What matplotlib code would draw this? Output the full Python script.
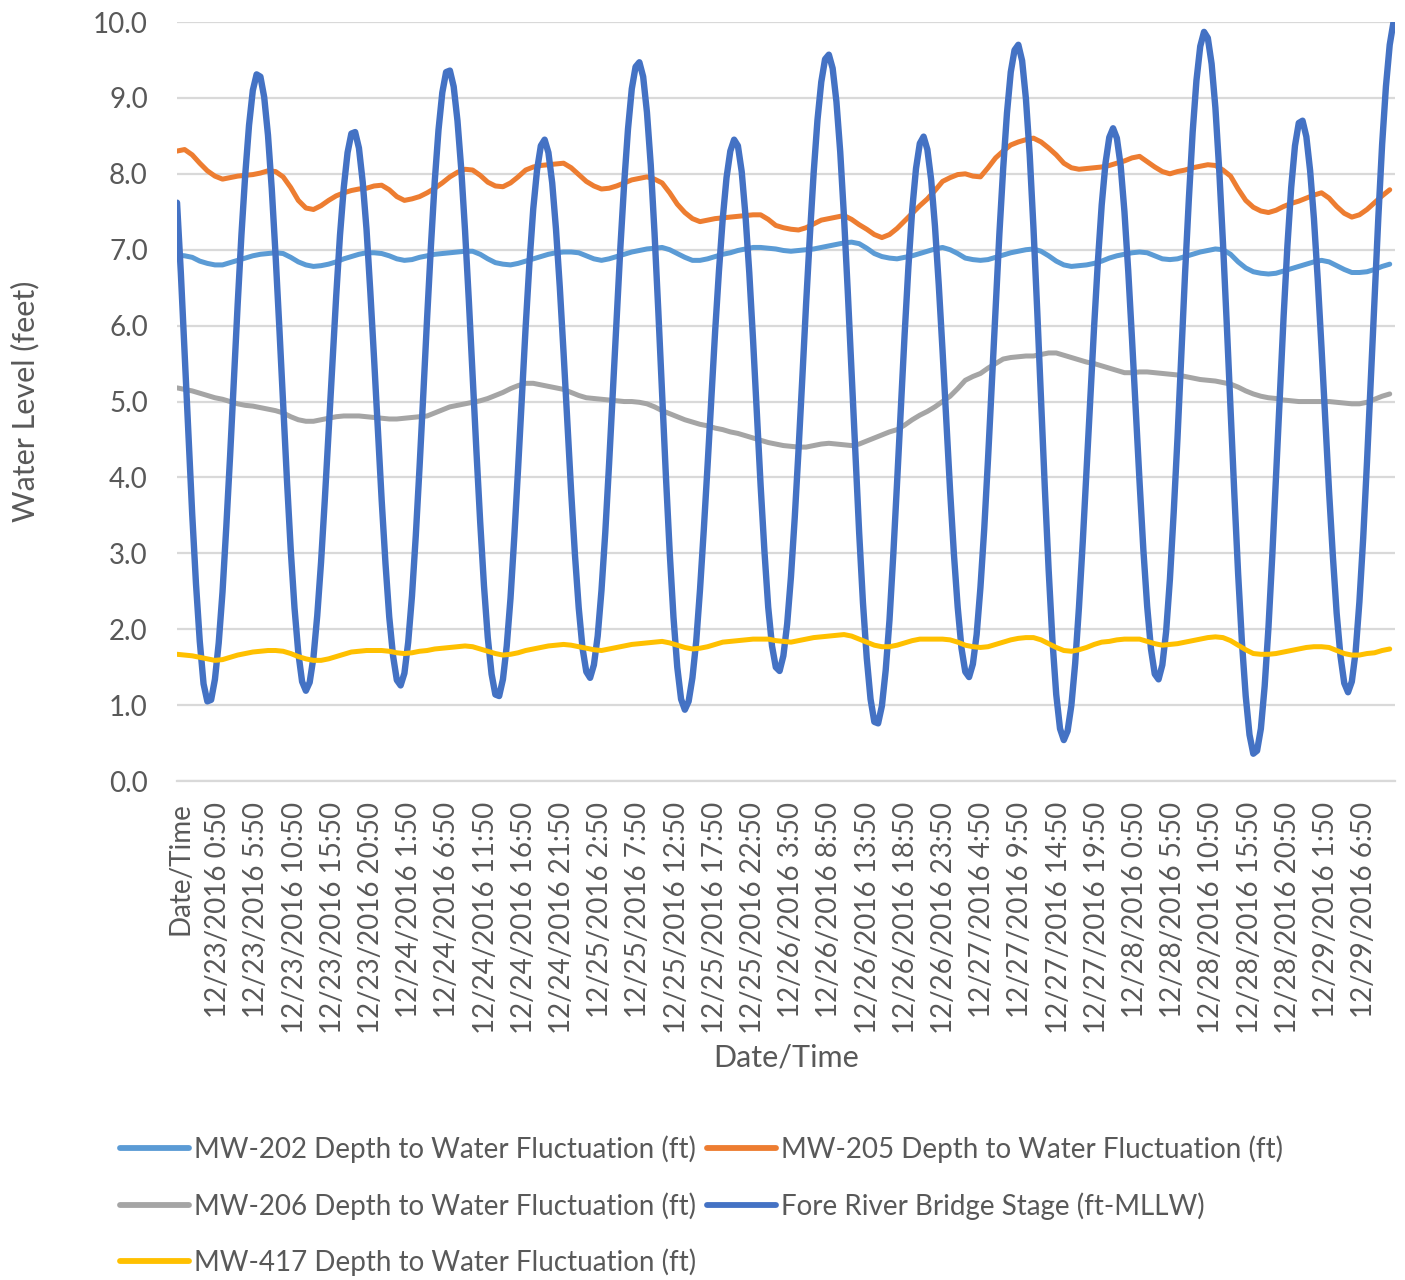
import numpy as np
import matplotlib
matplotlib.use("Agg")
import matplotlib.pyplot as plt

plt.rcParams['font.family'] = ['Lato', 'DejaVu Sans']

# Tick labels along the category axis (one label every 5 hours)
tick_labels = [
    "Date/Time",
    "12/23/2016 0:50", "12/23/2016 5:50", "12/23/2016 10:50", "12/23/2016 15:50", "12/23/2016 20:50",
    "12/24/2016 1:50", "12/24/2016 6:50", "12/24/2016 11:50", "12/24/2016 16:50", "12/24/2016 21:50",
    "12/25/2016 2:50", "12/25/2016 7:50", "12/25/2016 12:50", "12/25/2016 17:50", "12/25/2016 22:50",
    "12/26/2016 3:50", "12/26/2016 8:50", "12/26/2016 13:50", "12/26/2016 18:50", "12/26/2016 23:50",
    "12/27/2016 4:50", "12/27/2016 9:50", "12/27/2016 14:50", "12/27/2016 19:50",
    "12/28/2016 0:50", "12/28/2016 5:50", "12/28/2016 10:50", "12/28/2016 15:50", "12/28/2016 20:50",
    "12/29/2016 1:50", "12/29/2016 6:50",
]

# Monitoring wells, hourly readings (ft)
mw202 = [
    6.93, 6.92, 6.90, 6.85, 6.82, 6.80, 6.80, 6.83, 6.86, 6.89, 6.92, 6.94, 6.95, 6.96, 6.95, 6.90,
    6.84, 6.80, 6.78, 6.79, 6.81, 6.84, 6.88, 6.91, 6.94, 6.96, 6.96, 6.95, 6.92, 6.88, 6.86, 6.87,
    6.90, 6.92, 6.94, 6.95, 6.96, 6.97, 6.98, 6.98, 6.94, 6.88, 6.83, 6.81, 6.80, 6.82, 6.85, 6.88,
    6.91, 6.94, 6.96, 6.97, 6.97, 6.96, 6.92, 6.88, 6.86, 6.88, 6.91, 6.94, 6.97, 6.99, 7.01, 7.02,
    7.03, 7.00, 6.95, 6.90, 6.86, 6.86, 6.88, 6.91, 6.94, 6.96, 6.99, 7.01, 7.03, 7.03, 7.02, 7.01,
    6.99, 6.98, 6.99, 7.00, 7.01, 7.03, 7.05, 7.07, 7.09, 7.10, 7.08, 7.02, 6.95, 6.91, 6.89, 6.88,
    6.90, 6.92, 6.95, 6.98, 7.01, 7.03, 7.00, 6.95, 6.89, 6.87, 6.86, 6.87, 6.90, 6.93, 6.96, 6.98,
    7.00, 7.01, 6.98, 6.92, 6.85, 6.80, 6.78, 6.79, 6.80, 6.82, 6.85, 6.89, 6.92, 6.94, 6.96, 6.97,
    6.96, 6.92, 6.88, 6.87, 6.88, 6.91, 6.94, 6.97, 6.99, 7.01, 7.00, 6.94, 6.84, 6.76, 6.71, 6.69,
    6.68, 6.69, 6.72, 6.75, 6.78, 6.81, 6.84, 6.86, 6.84, 6.79, 6.74, 6.70, 6.70, 6.71, 6.74, 6.78,
    6.81,
]

mw205 = [
    8.30, 8.32, 8.25, 8.14, 8.04, 7.97, 7.93, 7.95, 7.97, 7.98, 7.99, 8.01, 8.04, 8.03, 7.96, 7.82,
    7.65, 7.55, 7.53, 7.58, 7.65, 7.71, 7.75, 7.78, 7.80, 7.81, 7.84, 7.85, 7.79, 7.70, 7.65, 7.67,
    7.70, 7.75, 7.81, 7.88, 7.96, 8.02, 8.06, 8.05, 7.98, 7.89, 7.84, 7.83, 7.88, 7.96, 8.05, 8.09,
    8.11, 8.12, 8.13, 8.14, 8.08, 7.99, 7.90, 7.84, 7.80, 7.81, 7.84, 7.88, 7.92, 7.94, 7.96, 7.93,
    7.88, 7.75, 7.60, 7.49, 7.41, 7.37, 7.39, 7.41, 7.42, 7.43, 7.44, 7.45, 7.46, 7.46, 7.40, 7.32,
    7.29, 7.27, 7.26, 7.29, 7.34, 7.39, 7.41, 7.43, 7.45, 7.40, 7.33, 7.27, 7.20, 7.16, 7.20, 7.28,
    7.38, 7.48, 7.58, 7.67, 7.78, 7.90, 7.95, 7.99, 8.00, 7.97, 7.96, 8.08, 8.21, 8.30, 8.38, 8.42,
    8.45, 8.47, 8.42, 8.34, 8.25, 8.14, 8.08, 8.06, 8.07, 8.08, 8.09, 8.11, 8.14, 8.17, 8.21, 8.23,
    8.16, 8.09, 8.03, 8.00, 8.03, 8.05, 8.08, 8.10, 8.12, 8.11, 8.05, 7.97, 7.80, 7.65, 7.56, 7.51,
    7.49, 7.52, 7.57, 7.61, 7.64, 7.68, 7.72, 7.75, 7.68, 7.57, 7.48, 7.43, 7.46, 7.53, 7.62, 7.71,
    7.79,
]

mw206 = [
    5.18, 5.16, 5.14, 5.11, 5.08, 5.05, 5.03, 5.00, 4.97, 4.95, 4.94, 4.92, 4.90, 4.88, 4.85, 4.80,
    4.76, 4.74, 4.74, 4.76, 4.78, 4.80, 4.81, 4.81, 4.81, 4.80, 4.79, 4.78, 4.77, 4.77, 4.78, 4.79,
    4.80, 4.81, 4.85, 4.89, 4.93, 4.95, 4.97, 4.99, 5.01, 5.04, 5.08, 5.12, 5.17, 5.21, 5.24, 5.24,
    5.22, 5.20, 5.18, 5.16, 5.12, 5.08, 5.05, 5.04, 5.03, 5.02, 5.01, 5.00, 5.00, 4.99, 4.97, 4.93,
    4.88, 4.84, 4.80, 4.76, 4.73, 4.70, 4.68, 4.65, 4.63, 4.60, 4.58, 4.55, 4.52, 4.49, 4.46, 4.44,
    4.42, 4.41, 4.40, 4.40, 4.42, 4.44, 4.45, 4.44, 4.43, 4.42, 4.44, 4.48, 4.52, 4.56, 4.60, 4.63,
    4.69, 4.76, 4.82, 4.87, 4.93, 5.00, 5.07, 5.17, 5.28, 5.33, 5.37, 5.44, 5.50, 5.56, 5.58, 5.59,
    5.60, 5.60, 5.62, 5.64, 5.64, 5.61, 5.58, 5.55, 5.52, 5.50, 5.47, 5.44, 5.41, 5.38, 5.38, 5.39,
    5.39, 5.38, 5.37, 5.36, 5.35, 5.33, 5.31, 5.29, 5.28, 5.27, 5.25, 5.23, 5.19, 5.14, 5.10, 5.07,
    5.05, 5.04, 5.02, 5.01, 5.00, 5.00, 5.00, 5.00, 5.00, 4.99, 4.98, 4.97, 4.97, 4.99, 5.03, 5.07,
    5.10,
]

mw417 = [
    1.67, 1.66, 1.65, 1.63, 1.61, 1.59, 1.60, 1.63, 1.66, 1.68, 1.70, 1.71, 1.72, 1.72, 1.71, 1.68,
    1.64, 1.61, 1.59, 1.59, 1.61, 1.64, 1.67, 1.70, 1.71, 1.72, 1.72, 1.72, 1.71, 1.69, 1.68, 1.69,
    1.71, 1.72, 1.74, 1.75, 1.76, 1.77, 1.78, 1.77, 1.74, 1.71, 1.68, 1.66, 1.67, 1.69, 1.72, 1.74,
    1.76, 1.78, 1.79, 1.80, 1.79, 1.77, 1.75, 1.73, 1.72, 1.74, 1.76, 1.78, 1.80, 1.81, 1.82, 1.83,
    1.84, 1.82, 1.79, 1.76, 1.74, 1.75, 1.77, 1.80, 1.83, 1.84, 1.85, 1.86, 1.87, 1.87, 1.87, 1.85,
    1.84, 1.83, 1.85, 1.87, 1.89, 1.90, 1.91, 1.92, 1.93, 1.91, 1.87, 1.83, 1.79, 1.77, 1.77, 1.79,
    1.82, 1.85, 1.87, 1.87, 1.87, 1.87, 1.86, 1.83, 1.79, 1.77, 1.76, 1.77, 1.80, 1.83, 1.86, 1.88,
    1.89, 1.89, 1.86, 1.81, 1.76, 1.72, 1.71, 1.73, 1.76, 1.80, 1.83, 1.84, 1.86, 1.87, 1.87, 1.87,
    1.84, 1.81, 1.79, 1.80, 1.81, 1.83, 1.85, 1.87, 1.89, 1.90, 1.89, 1.85, 1.79, 1.73, 1.68, 1.67,
    1.67, 1.68, 1.70, 1.72, 1.74, 1.76, 1.77, 1.77, 1.76, 1.72, 1.68, 1.66, 1.66, 1.68, 1.69, 1.72,
    1.74,
]

# Fore River bridge tide stage, half-hourly readings (ft-MLLW)
fore_river = [
    7.62, 6.70, 5.65, 4.58, 3.52, 2.60, 1.84, 1.28, 1.05,
    1.07, 1.34, 1.82, 2.49, 3.35, 4.28, 5.28, 6.28, 7.20, 7.99, 8.64, 9.10, 9.31,
    9.28, 9.01, 8.51, 7.80, 6.93, 5.97, 4.96, 3.97, 3.05, 2.28, 1.69, 1.31, 1.19,
    1.30, 1.63, 2.18, 2.88, 3.71, 4.61, 5.52, 6.39, 7.19, 7.82, 8.28, 8.53,
    8.55, 8.34, 7.89, 7.27, 6.45, 5.56, 4.62, 3.70, 2.87, 2.16, 1.65, 1.33,
    1.26, 1.42, 1.83, 2.44, 3.23, 4.14, 5.11, 6.11, 7.05, 7.90, 8.58, 9.07, 9.34,
    9.36, 9.15, 8.70, 8.06, 7.25, 6.33, 5.34, 4.35, 3.41, 2.57, 1.89, 1.41, 1.14,
    1.12, 1.34, 1.78, 2.41, 3.22, 4.12, 5.06, 5.99, 6.83, 7.54, 8.05, 8.37,
    8.45, 8.28, 7.88, 7.27, 6.51, 5.64, 4.72, 3.81, 2.98, 2.28, 1.75, 1.44,
    1.36, 1.53, 1.91, 2.51, 3.27, 4.17, 5.13, 6.11, 7.04, 7.88, 8.59, 9.12, 9.41,
    9.47, 9.28, 8.81, 8.12, 7.22, 6.19, 5.10, 4.02, 3.02, 2.16, 1.50, 1.08, 0.94,
    1.05, 1.36, 1.84, 2.52, 3.31, 4.16, 5.05, 5.93, 6.72, 7.41, 7.95, 8.30, 8.45,
    8.37, 8.03, 7.45, 6.70, 5.81, 4.84, 3.89, 3.03, 2.29, 1.78, 1.50,
    1.45, 1.65, 2.07, 2.69, 3.47, 4.36, 5.31, 6.29, 7.19, 8.02, 8.71, 9.21, 9.51,
    9.57, 9.39, 8.95, 8.29, 7.43, 6.44, 5.38, 4.29, 3.27, 2.35, 1.62, 1.08, 0.78,
    0.76, 0.99, 1.46, 2.12, 2.98, 3.93, 4.92, 5.89, 6.78, 7.53, 8.07, 8.40,
    8.49, 8.32, 7.92, 7.31, 6.54, 5.67, 4.74, 3.82, 2.99, 2.29, 1.75, 1.44,
    1.37, 1.54, 1.93, 2.55, 3.32, 4.24, 5.23, 6.24, 7.21, 8.07, 8.80, 9.34, 9.63,
    9.70, 9.49, 8.99, 8.25, 7.28, 6.18, 5.01, 3.85, 2.78, 1.85, 1.14, 0.69, 0.54,
    0.66, 1.00, 1.55, 2.29, 3.15, 4.09, 5.05, 5.99, 6.85, 7.59, 8.14, 8.48,
    8.60, 8.47, 8.11, 7.50, 6.72, 5.82, 4.87, 3.93, 3.04, 2.30, 1.74, 1.41,
    1.34, 1.53, 1.97, 2.66, 3.54, 4.52, 5.61, 6.69, 7.67, 8.55, 9.23, 9.68, 9.87,
    9.79, 9.45, 8.87, 8.06, 7.09, 6.02, 4.89, 3.78, 2.73, 1.83, 1.12, 0.61, 0.36,
    0.40, 0.69, 1.25, 2.02, 2.96, 4.00, 5.07, 6.12, 7.05, 7.82, 8.37, 8.67,
    8.70, 8.49, 8.04, 7.41, 6.61, 5.71, 4.76, 3.81, 2.96, 2.21, 1.65, 1.29,
    1.17, 1.31, 1.70, 2.36, 3.20, 4.20, 5.28, 6.38, 7.43, 8.39, 9.15, 9.70, 10.00,
]

series_names = [
    "MW-202 Depth to Water Fluctuation (ft)",
    "MW-205 Depth to Water Fluctuation (ft)",
    "MW-206 Depth to Water Fluctuation (ft)",
    "Fore River Bridge Stage (ft-MLLW)",
    "MW-417 Depth to Water Fluctuation (ft)",
]
colors = ["#5B9BD5", "#ED7D31", "#A5A5A5", "#4472C4", "#FFC000"]

text_color = "#595959"
grid_color = "#D9D9D9"

fig = plt.figure(figsize=(14.05, 12.8), dpi=100)
ax = fig.add_axes([0.126, 0.3898, 0.8669, 0.5930])

hours = np.arange(len(mw202))
half_hours = np.arange(len(fore_river)) * 0.5

handles = []
for name, color, (t, vals) in zip(
    series_names, colors,
    [(hours, mw202), (hours, mw205), (hours, mw206), (half_hours, fore_river), (hours, mw417)],
):
    lw = 4.6 if name.startswith("Fore") else 3.6
    (h,) = ax.plot(t, vals, color=color, lw=lw, solid_capstyle="round",
                   solid_joinstyle="round", label=name)
    handles.append(h)

ax.set_xlim(0, 160.7)
ax.set_ylim(0, 10)

ax.set_yticks(np.arange(0, 10.5, 1.0))
ax.set_yticklabels([f"{v:.1f}" for v in np.arange(0, 10.5, 1.0)])

# Category label slots along the time axis
label_start, label_step = 0.4, 5.04
ax.set_xticks(label_start + np.arange(len(tick_labels)) * label_step)
ax.set_xticklabels(tick_labels, rotation=90)

ax.tick_params(axis="y", length=0, pad=21, labelsize=20, labelcolor=text_color)
ax.tick_params(axis="x", length=0, pad=15, labelsize=20, labelcolor=text_color)

ax.yaxis.grid(True, color=grid_color, lw=1.6)
ax.set_axisbelow(True)
for side in ["left", "right", "top"]:
    ax.spines[side].set_visible(False)
ax.spines["bottom"].set_color(grid_color)
ax.spines["bottom"].set_linewidth(1.6)

# Axis titles
fig.text(25 / 1405, 1 - 401 / 1280, "Water Level (feet)", rotation=90,
         ha="center", va="center", fontsize=22, color=text_color)
fig.text(786 / 1405, 1 - 1058 / 1280, "Date/Time",
         ha="center", va="center", fontsize=22, color=text_color)

# Legend laid out row by row, two entries per row
order = [0, 2, 4, 1, 3]
leg = fig.legend(
    [handles[i] for i in order], [series_names[i] for i in order],
    ncol=2, loc="upper left", bbox_to_anchor=(0.0676, 0.1324),
    frameon=False, fontsize=20, handlelength=2.5, handletextpad=0.18,
    columnspacing=0.36, labelspacing=1.04, labelcolor=text_color,
)
for line in leg.get_lines():
    line.set_linewidth(4.2)

fig.savefig("out.png", dpi=100, facecolor="white")
